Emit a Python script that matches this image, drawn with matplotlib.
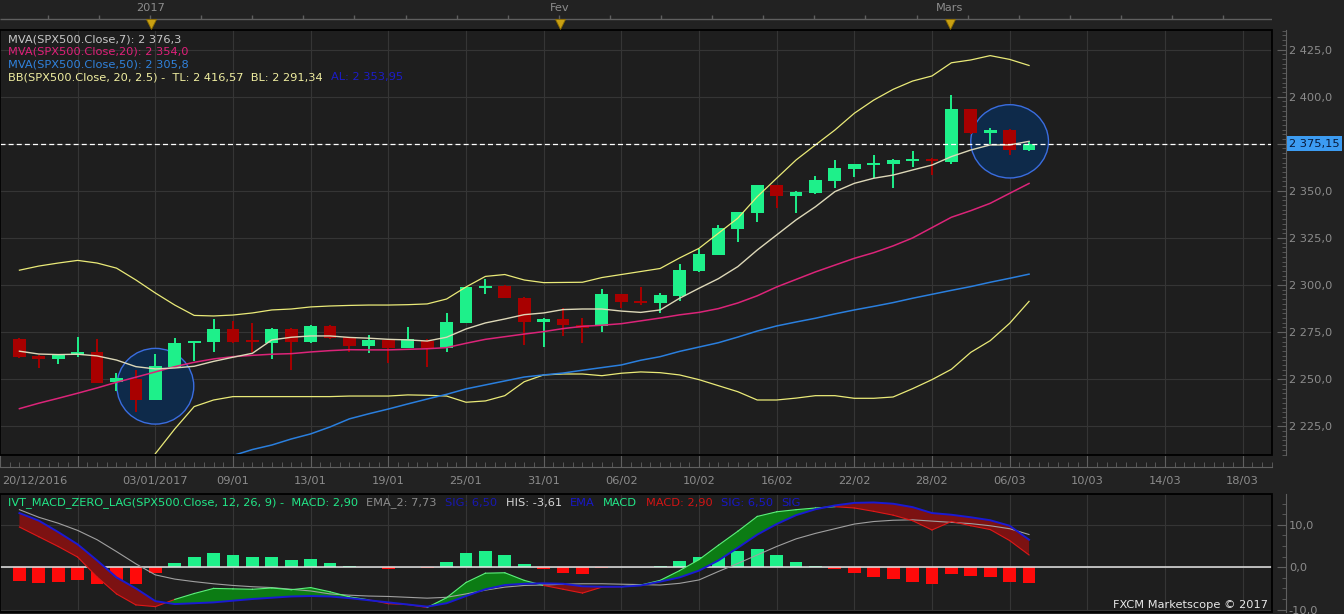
import numpy as np
import matplotlib
matplotlib.use("Agg")
import matplotlib.pyplot as plt
from matplotlib.patches import Ellipse, Rectangle
from matplotlib.ticker import MultipleLocator, FixedLocator, FuncFormatter

# ---------------- data ----------------
dates = ["21/12/2016", "22/12/2016", "23/12/2016", "27/12/2016", "28/12/2016", "29/12/2016", "30/12/2016",
         "03/01/2017", "04/01/2017", "05/01/2017", "06/01/2017", "09/01/2017", "10/01/2017", "11/01/2017",
         "12/01/2017", "13/01/2017", "16/01/2017", "17/01/2017", "18/01/2017", "19/01/2017", "20/01/2017",
         "23/01/2017", "24/01/2017", "25/01/2017", "26/01/2017", "27/01/2017", "30/01/2017", "31/01/2017",
         "01/02/2017", "02/02/2017", "03/02/2017", "06/02/2017", "07/02/2017", "08/02/2017", "09/02/2017",
         "10/02/2017", "13/02/2017", "14/02/2017", "15/02/2017", "16/02/2017", "17/02/2017", "20/02/2017",
         "21/02/2017", "22/02/2017", "23/02/2017", "24/02/2017", "27/02/2017", "28/02/2017", "01/03/2017",
         "02/03/2017", "03/03/2017", "06/03/2017", "07/03/2017"]

open_ = [2271.4, 2262.4, 2260.7, 2263.0, 2264.5, 2248.4, 2250.2, 2239.2, 2256.7, 2269.0,
         2270.0, 2276.7, 2270.2, 2269.4, 2276.5, 2270.0, 2278.3, 2272.3, 2267.7, 2270.9,
         2266.8, 2270.3, 2266.5, 2280.0, 2298.5, 2299.5, 2293.3, 2280.6, 2282.0, 2278.8,
         2278.5, 2295.1, 2291.6, 2290.7, 2294.4, 2307.6, 2316.1, 2330.0, 2338.4, 2353.1,
         2347.5, 2348.7, 2355.3, 2361.6, 2363.7, 2364.4, 2366.0, 2367.1, 2365.3, 2393.3,
         2380.9, 2382.3, 2371.7]
high = [2272.0, 2262.8, 2263.6, 2272.3, 2271.4, 2253.2, 2255.0, 2263.3, 2271.8, 2270.5,
        2281.8, 2281.0, 2279.7, 2277.0, 2277.0, 2278.8, 2278.6, 2272.5, 2273.5, 2271.2,
        2277.9, 2271.2, 2285.0, 2299.2, 2303.0, 2299.8, 2293.5, 2282.3, 2287.7, 2282.4,
        2297.8, 2295.5, 2298.8, 2296.0, 2311.0, 2319.0, 2331.9, 2339.0, 2353.3, 2353.3,
        2350.0, 2357.9, 2366.4, 2364.5, 2369.0, 2367.0, 2371.3, 2367.5, 2400.9, 2393.5,
        2383.2, 2383.0, 2376.6]
low = [2261.5, 2255.8, 2258.0, 2262.0, 2248.0, 2243.8, 2232.8, 2239.0, 2256.5, 2259.7,
       2264.3, 2269.4, 2264.7, 2260.8, 2255.0, 2269.0, 2271.5, 2264.4, 2264.0, 2258.5,
       2266.5, 2256.7, 2264.7, 2279.8, 2295.0, 2293.0, 2268.2, 2267.3, 2273.0, 2269.0,
       2275.3, 2288.0, 2289.4, 2285.3, 2291.7, 2307.0, 2315.8, 2323.0, 2333.6, 2340.8,
       2338.1, 2348.2, 2351.4, 2357.5, 2356.7, 2351.4, 2362.5, 2358.4, 2364.4, 2380.0,
       2374.7, 2369.0, 2371.0]
close = [2262.0, 2260.7, 2263.4, 2264.5, 2248.2, 2250.7, 2239.2, 2257.0, 2269.3, 2270.3,
         2276.7, 2269.6, 2269.8, 2276.7, 2270.0, 2278.3, 2271.8, 2267.7, 2270.9, 2266.8,
         2271.4, 2266.8, 2280.2, 2298.8, 2299.5, 2293.3, 2280.6, 2282.0, 2278.8, 2277.4,
         2295.3, 2291.2, 2290.7, 2294.7, 2308.0, 2316.5, 2330.1, 2338.6, 2353.1, 2347.5,
         2349.3, 2355.8, 2362.0, 2364.3, 2364.6, 2366.4, 2367.0, 2365.7, 2393.3, 2380.9,
         2382.3, 2371.7, 2375.15]

ma7 = [2264.9, 2263.4, 2263.1, 2263.3, 2262.4, 2260.2, 2256.7, 2255.5, 2256.0, 2256.9,
       2259.5, 2261.7, 2263.8, 2270.9, 2272.3, 2273.0, 2273.0, 2272.2, 2271.8, 2271.2,
       2270.9, 2270.3, 2272.3, 2276.7, 2279.9, 2282.0, 2284.3, 2285.2, 2287.0, 2287.3,
       2287.3, 2286.2, 2285.5, 2286.8, 2293.0, 2298.3, 2303.4, 2309.8, 2318.6, 2326.6,
       2334.6, 2341.6, 2349.6, 2354.0, 2356.7, 2358.4, 2361.1, 2363.7, 2368.2, 2371.7,
       2374.4, 2374.4, 2376.3]
ma20 = [2234.4, 2237.3, 2239.9, 2242.6, 2245.4, 2248.4, 2251.1, 2253.9, 2256.7, 2259.0,
        2260.8, 2262.0, 2262.7, 2263.3, 2263.6, 2264.5, 2265.2, 2265.7, 2265.6, 2265.6,
        2265.9, 2266.2, 2266.8, 2269.1, 2271.2, 2272.6, 2274.0, 2275.3, 2276.9, 2278.1,
        2278.7, 2279.5, 2281.0, 2282.5, 2284.2, 2285.5, 2287.5, 2290.5, 2294.3, 2299.0,
        2303.0, 2307.0, 2310.6, 2314.2, 2317.2, 2320.8, 2325.0, 2330.5, 2336.0, 2339.5,
        2343.4, 2348.7, 2353.95]
ma50 = [np.nan] * 11 + [
        2209.5, 2212.7, 2215.1, 2218.3, 2221.0, 2224.7, 2229.0, 2231.7, 2234.2, 2236.9,
        2239.5, 2242.0, 2244.9, 2247.0, 2249.1, 2251.2, 2252.3, 2253.3, 2254.8, 2256.2,
        2257.6, 2260.1, 2262.0, 2264.8, 2267.1, 2269.4, 2272.4, 2275.6, 2278.3, 2280.4,
        2282.4, 2284.7, 2286.8, 2288.7, 2290.7, 2293.0, 2295.1, 2297.2, 2299.2, 2301.5,
        2303.6, 2305.8]
bb_upper = [2307.9, 2310.1, 2311.7, 2313.1, 2311.7, 2309.0, 2302.7, 2295.8, 2289.4, 2283.9,
            2283.6, 2284.1, 2285.2, 2286.8, 2287.3, 2288.4, 2288.9, 2289.2, 2289.4, 2289.4,
            2289.6, 2290.0, 2292.6, 2299.0, 2304.6, 2305.6, 2302.7, 2301.3, 2301.4, 2301.5,
            2304.0, 2305.6, 2307.2, 2308.8, 2314.4, 2319.5, 2327.5, 2335.5, 2346.9, 2356.7,
            2366.4, 2374.4, 2382.3, 2391.2, 2398.2, 2403.9, 2408.3, 2411.0, 2418.0, 2419.5,
            2421.8, 2419.8, 2416.57]
bb_lower = [np.nan] * 7 + [
            2210.5, 2223.6, 2235.5, 2239.0, 2240.8, 2240.8, 2240.8, 2240.8, 2240.8, 2240.8,
            2241.1, 2241.1, 2241.1, 2241.7, 2241.5, 2241.1, 2237.8, 2238.5, 2241.3, 2248.7,
            2252.3, 2252.8, 2252.8, 2251.9, 2253.2, 2253.9, 2253.5, 2252.3, 2249.8, 2246.6,
            2243.4, 2239.0, 2239.0, 2240.0, 2241.3, 2241.3, 2239.9, 2239.9, 2240.6, 2245.0,
            2249.8, 2255.3, 2264.3, 2270.5, 2279.7, 2291.34]

macd = [9.5, 7.2, 4.9, 2.4, -2.3, -6.3, -8.9, -9.3, -7.6, -6.2,
        -5.0, -5.1, -5.2, -4.9, -5.3, -4.8, -5.8, -7.0, -7.7, -8.6,
        -8.8, -9.5, -7.2, -3.6, -1.4, -1.3, -3.1, -4.3, -5.2, -6.1,
        -4.7, -4.6, -4.2, -3.1, -0.8, 1.8, 5.2, 8.5, 12.0, 13.1,
        13.6, 14.0, 14.3, 14.0, 13.2, 12.3, 11.0, 8.8, 10.8, 9.8,
        8.9, 6.3, 2.90]
signal = [12.8, 11.0, 8.3, 5.4, 1.6, -2.4, -5.0, -8.0, -8.7, -8.5,
          -8.3, -7.9, -7.5, -7.2, -6.9, -6.8, -6.9, -7.3, -7.8, -8.3,
          -8.8, -9.3, -8.5, -6.8, -5.2, -4.2, -3.9, -3.8, -3.9, -4.5,
          -4.6, -4.6, -4.3, -3.4, -2.4, -0.8, 1.6, 4.6, 7.7, 10.2,
          12.3, 13.7, 14.6, 15.2, 15.3, 15.0, 14.2, 12.8, 12.4, 11.8,
          11.1, 9.8, 6.50]
ema2 = [13.6, 11.8, 10.4, 8.7, 6.5, 3.7, 0.8, -1.8, -2.8, -3.4,
        -3.9, -4.3, -4.6, -4.8, -5.2, -5.6, -6.3, -6.6, -6.8, -6.9,
        -7.1, -7.3, -7.1, -6.3, -5.4, -4.7, -4.3, -4.2, -4.0, -3.9,
        -3.9, -4.0, -4.1, -4.2, -3.8, -3.0, -1.0, 0.9, 2.9, 4.9,
        6.7, 8.0, 9.1, 10.2, 10.8, 11.1, 11.2, 10.9, 10.6, 10.3,
        9.8, 9.1, 7.73]
hist = [-3.2, -3.8, -3.4, -3.0, -3.9, -3.9, -3.9, -1.4, 1.1, 2.4,
        3.4, 2.9, 2.4, 2.4, 1.7, 2.0, 1.0, 0.3, 0.1, -0.3,
        0.05, -0.25, 1.2, 3.4, 3.9, 2.9, 0.8, -0.5, -1.3, -1.6,
        -0.15, 0.0, 0.05, 0.3, 1.5, 2.4, 3.6, 3.9, 4.3, 2.9,
        1.3, 0.3, -0.3, -1.3, -2.2, -2.8, -3.4, -3.9, -1.5, -2.0,
        -2.2, -3.6, -3.61]

x_tick_labels = ["20/12/2016", "", "03/01/2017", "09/01", "13/01", "19/01", "25/01", "31/01",
                 "06/02", "10/02", "16/02", "22/02", "28/02", "06/03", "10/03", "14/03", "18/03"]
month_labels = ["2017", "Fev", "Mars"]
last_price = 2375.15

# ---------------- styling ----------------
W, H = 1344, 614
FS = 8.2
FIGBG = "#222222"
PANEL = "#1e1e1e"
GRID = "#353535"
AXC = "#5f5f5f"
TXT = "#8c8c8c"
CGREEN = "#1ef08a"
CRED = "#a80000"
PT = 0.72  # points per pixel at 100 dpi

plt.rcParams["font.family"] = ["DejaVu Sans"]

fig = plt.figure(figsize=(W / 100, H / 100), dpi=100)
fig.patch.set_facecolor(FIGBG)


def box(x0, y0, x1, y1):
    return [x0 / W, 1 - y1 / H, (x1 - x0) / W, (y1 - y0) / H]


PXB, X0 = 19.5, 14.0


def b(px):
    return (np.asarray(px, dtype=float) - X0) / PXB


XL = (float(b(0)), float(b(1272)))
n = len(close)
x = np.arange(n)
o = np.array(open_); c = np.array(close); hi = np.array(high); lo = np.array(low)


def fmt_num(v, dec=1):
    s = f"{v:,.{dec}f}"
    return s.replace(",", " ").replace(".", ",")


def fmt_axis(v, pos=None):
    if abs(v - 2375) < 1e-6:
        return ""
    return fmt_num(v, 1)


tick_pos = [-1 + 4 * k for k in range(len(x_tick_labels))]

# ---------------- main price panel ----------------
ax = fig.add_axes(box(0, 30, 1272, 455))
ax.set_facecolor(PANEL)
ax.set_xlim(*XL)
ax.set_ylim(2209.8, 2435.4)
for s in ["left", "top"]:
    ax.spines[s].set_visible(False)
ax.spines["right"].set_position(("outward", 14 * PT))
ax.spines["right"].set_color(AXC)
ax.spines["bottom"].set_position(("outward", 12 * PT))
ax.spines["bottom"].set_color(AXC)
ax.add_patch(Rectangle((0, 0), 1, 1, transform=ax.transAxes, fill=False, ec="black",
                       lw=1.3, zorder=20, clip_on=False))
ax.yaxis.tick_right()
ax.yaxis.set_major_locator(MultipleLocator(25))
ax.yaxis.set_minor_locator(MultipleLocator(2.5))
ax.yaxis.set_major_formatter(FuncFormatter(fmt_axis))
ax.tick_params(axis="y", which="both", direction="in", color=AXC, labelcolor=TXT,
               labelsize=FS, pad=2)
ax.tick_params(axis="y", which="major", length=9 * PT)
ax.tick_params(axis="y", which="minor", length=4 * PT)
ax.set_xticks(tick_pos)
ax.set_xticklabels([""] + x_tick_labels[1:])
ax.xaxis.set_minor_locator(MultipleLocator(0.5))
ax.tick_params(axis="x", which="both", direction="in", color=AXC, labelcolor=TXT,
               labelsize=FS, pad=6.5)
ax.tick_params(axis="x", which="major", length=12 * PT)
ax.tick_params(axis="x", which="minor", length=5 * PT)
ax.grid(True, which="major", color=GRID, lw=0.8)
ax.set_axisbelow(True)
# first (clipped) date label, pushed inside the view like the original
ax.text(0.0015, -(481 - 455) / 425, x_tick_labels[0], transform=ax.transAxes,
        ha="left", va="center", color=TXT, fontsize=FS, clip_on=False)

# highlight circles
ax.add_patch(Ellipse((7.0, 2246.3), 3.96, 40.2, fc="#0e2a4a", ec="#3a6de0", lw=1.0, zorder=1.5))
ax.add_patch(Ellipse((51.0, 2376.3), 4.0, 38.9, fc="#0e2a4a", ec="#3a6de0", lw=1.0, zorder=1.5))

# candles
up = c >= o
cols = np.where(up, CGREEN, CRED)
ax.vlines(x, lo, hi, colors=cols, lw=1.4, zorder=3)
body_bot = np.minimum(o, c)
body_h = np.maximum(np.abs(c - o), 0.9)
ax.bar(x, body_h, 0.66, bottom=body_bot, color=cols, lw=0, zorder=4)

# indicators
ax.plot(x, bb_upper, color="#eaea78", lw=0.9, zorder=5)
ax.plot(x, bb_lower, color="#eaea78", lw=0.9, zorder=5)
ax.plot(x, ma50, color="#2a7fde", lw=1.1, zorder=5)
ax.plot(x, ma20, color="#dc2479", lw=1.1, zorder=5)
ax.plot(x, ma7, color="#ddd8b8", lw=1.0, zorder=5)

ax.axhline(last_price, color="white", lw=0.9, ls=(0, (4, 2.5)), zorder=6)
ax.text(1289 / 1272, last_price, fmt_num(last_price, 2),
        transform=ax.get_yaxis_transform(), ha="left", va="center", fontsize=FS,
        color="#081838", clip_on=False,
        bbox=dict(boxstyle="square,pad=0.2", fc="#3c9cf2", ec="none"), zorder=25)


# legend lines
def chain(axis, parts, x0, y0):
    t = axis.text(x0, y0, parts[0][0], color=parts[0][1], transform=axis.transAxes,
                  fontsize=FS, ha="left", va="center", zorder=30)
    for txt, col, gap in parts[1:]:
        t = axis.annotate(txt, xy=(1, 0.5), xycoords=t, xytext=(gap, 0),
                          textcoords="offset points", color=col, fontsize=FS,
                          ha="left", va="center", zorder=30)


def ly(py):
    return 1 - (py - 30) / 425


chain(ax, [("MVA(SPX500.Close,7): 2 376,3", "#c8c8c8")], 8 / 1272, ly(39.5))
chain(ax, [("MVA(SPX500.Close,20): 2 354,0", "#e0207a")], 8 / 1272, ly(52))
chain(ax, [("MVA(SPX500.Close,50): 2 305,8", "#3082dc")], 8 / 1272, ly(64.5))
chain(ax, [("BB(SPX500.Close, 20, 2.5) -  TL: 2 416,57  BL: 2 291,34", "#f0eea0"),
           ("AL: 2 353,95", "#1c1cc8", 6)], 8 / 1272, ly(77))

# ---------------- top month strip ----------------
axt = fig.add_axes(box(0, 0, 1272, 30))
axt.set_xlim(*XL)
axt.set_ylim(30, 0)
axt.axis("off")
axt.hlines(19, XL[0], XL[1], color=AXC, lw=1.0)
tpx = np.arange(150 - 51.1 * 3, 1272, 51.1)
axt.vlines(b(tpx), 14.5, 19, color=AXC, lw=1.0)
months = [int(d.split("/")[1]) for d in dates]
month_idx = [i for i in range(1, n) if months[i] != months[i - 1]]
for i, lab in zip(month_idx, month_labels):
    axt.text(i, 8, lab, ha="center", va="center", color=TXT, fontsize=FS)
    axt.plot(i, 23.5, marker="v", ms=6.5, color="#c9a012", mec="#8a6a00", mew=0.6)

# ---------------- MACD panel ----------------
axm = fig.add_axes(box(0, 494, 1272, 612))
axm.set_facecolor(PANEL)
axm.set_xlim(*XL)
axm.set_ylim(-10.57, 17.3)
for s in ["left", "top", "bottom"]:
    axm.spines[s].set_visible(False)
axm.spines["right"].set_position(("outward", 14 * PT))
axm.spines["right"].set_color(AXC)
axm.add_patch(Rectangle((0, 0), 1, 1, transform=axm.transAxes, fill=False, ec="black",
                        lw=1.3, zorder=20, clip_on=False))
axm.yaxis.tick_right()
axm.yaxis.set_major_locator(FixedLocator([-10, 0, 10]))
axm.yaxis.set_minor_locator(MultipleLocator(2.5))
axm.yaxis.set_major_formatter(FuncFormatter(lambda v, p: fmt_num(v, 1)))
axm.tick_params(axis="y", which="both", direction="in", color=AXC, labelcolor=TXT,
                labelsize=FS, pad=2)
axm.tick_params(axis="y", which="major", length=9 * PT)
axm.tick_params(axis="y", which="minor", length=4 * PT)
axm.set_xticks(tick_pos)
axm.tick_params(axis="x", which="both", length=0, labelbottom=False)
axm.grid(True, which="major", color=GRID, lw=0.8)
axm.set_axisbelow(True)

mc = np.array(macd); sg = np.array(signal); hs = np.array(hist)
axm.bar(x, hs, 0.66, color=np.where(hs >= 0, "#1ef08a", "#ff0a0a"), lw=0, zorder=1.6)
axm.axhline(0, color="#e6e6e6", lw=1.1, zorder=1.8)
axm.fill_between(x, mc, sg, where=mc >= sg, interpolate=True, color="#0c7c14", lw=0, zorder=2)
axm.fill_between(x, mc, sg, where=mc < sg, interpolate=True, color="#7c1212", lw=0, zorder=2)
axm.plot(x, ema2, color="#a0a0a0", lw=0.8, zorder=3)
for i in range(n - 1):
    d = (mc[i] - sg[i]) + (mc[i + 1] - sg[i + 1])
    axm.plot(x[i:i + 2], mc[i:i + 2], color="#5cf07c" if d >= 0 else "#e01818", lw=0.8, zorder=3.5)
axm.plot(x, sg, color="#1a1ad2", lw=1.4, zorder=4)

chain(axm, [("IVT_MACD_ZERO_LAG(SPX500.Close, 12, 26, 9) -  MACD: 2,90", "#22e888"),
            ("EMA_2: 7,73", "#8c8c8c", 6),
            ("SIG: 6,50", "#1818b4", 6),
            ("HIS: -3,61", "#d8d8d8", 6),
            ("EMA", "#1818c8", 6),
            ("MACD", "#22e888", 6),
            ("MACD: 2,90", "#d41414", 6),
            ("SIG: 6,50", "#1818c8", 6),
            ("SIG", "#1818c8", 6)], 8 / 1272, 1 - (503 - 494) / 118)

axm.text(1268 / 1272, (612 - 605) / 118, "FXCM Marketscope © 2017", transform=axm.transAxes,
         ha="right", va="center", color="#e8e8e8", fontsize=FS, zorder=30)

fig.savefig("out.png", dpi=100, facecolor=FIGBG)
